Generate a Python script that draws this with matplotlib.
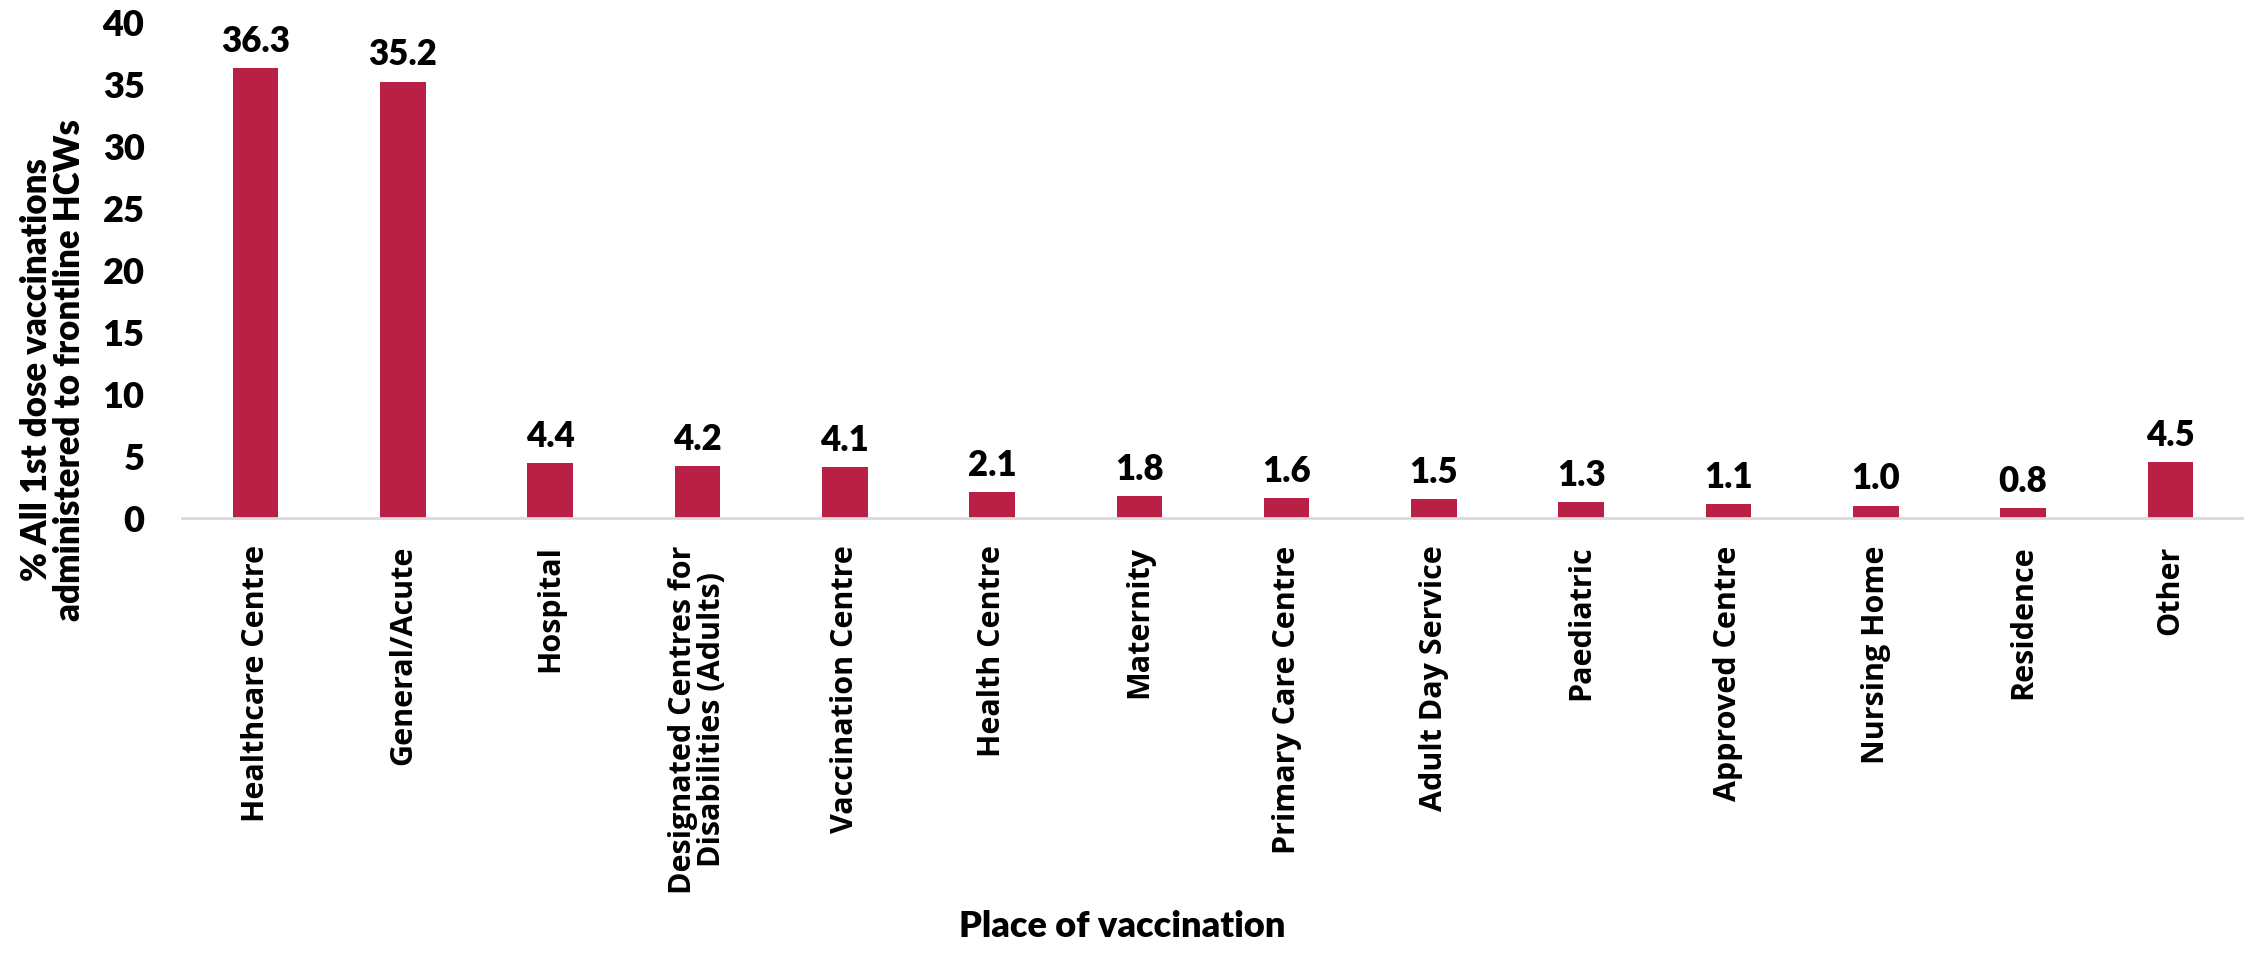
import matplotlib
matplotlib.use('Agg')
import matplotlib.pyplot as plt

places = ['Healthcare Centre', 'General/Acute', 'Hospital',
          'Designated Centres for\nDisabilities (Adults)', 'Vaccination Centre',
          'Health Centre', 'Maternity', 'Primary Care Centre', 'Adult Day Service',
          'Paediatric', 'Approved Centre', 'Nursing Home', 'Residence', 'Other']
percent = [36.3, 35.2, 4.4, 4.2, 4.1, 2.1, 1.8, 1.6, 1.5, 1.3, 1.1, 1.0, 0.8, 4.5]
y_ticks = [0, 5, 10, 15, 20, 25, 30, 35, 40]

bar_color = '#BA2046'

fig = plt.figure(figsize=(22.44, 9.70), dpi=100)
ax = fig.add_axes([182 / 2244, 1 - 519 / 970, 1 - 182 / 2244, (519 - 23) / 970])

x = range(len(places))
bars = ax.bar(x, percent, width=0.31, color=bar_color, zorder=2)

# value labels above each bar
for b, v in zip(bars, percent):
    ax.annotate('%.1f' % v, (b.get_x() + b.get_width() / 2, v),
                xytext=(0, 8), textcoords='offset points',
                ha='center', va='bottom', fontsize=25, fontweight='heavy',
                family='Lato', color='black')

ax.set_xlim(-0.5, len(places) - 0.5)
ax.set_ylim(0, 40)
ax.set_yticks(y_ticks)
ax.set_yticklabels([str(t) for t in y_ticks], fontsize=26, fontweight='heavy', family='Lato')
ax.set_xticks(list(x))
ax.set_xticklabels(places, rotation=90, fontsize=22, fontweight='bold',
                   family='Open Sans', va='top', ha='center', linespacing=0.95)
ax.tick_params(axis='y', length=0, pad=27)
ax.tick_params(axis='x', length=0, pad=19)

for side in ['top', 'right', 'left']:
    ax.spines[side].set_visible(False)
ax.spines['bottom'].set_color('#D9D9D9')
ax.spines['bottom'].set_linewidth(2)

# axis titles
fig.text(53 / 2244, 1 - 370 / 970, '% All 1st dose vaccinations\nadministered to frontline HCWs',
         rotation=90, ha='center', va='center', fontsize=25, fontweight='heavy',
         family='Lato', linespacing=1.0)
fig.text(0.5, 1 - 927 / 970, 'Place of vaccination', ha='center', va='center',
         fontsize=26, fontweight='heavy', family='Lato')

fig.savefig('out.png', dpi=100)
